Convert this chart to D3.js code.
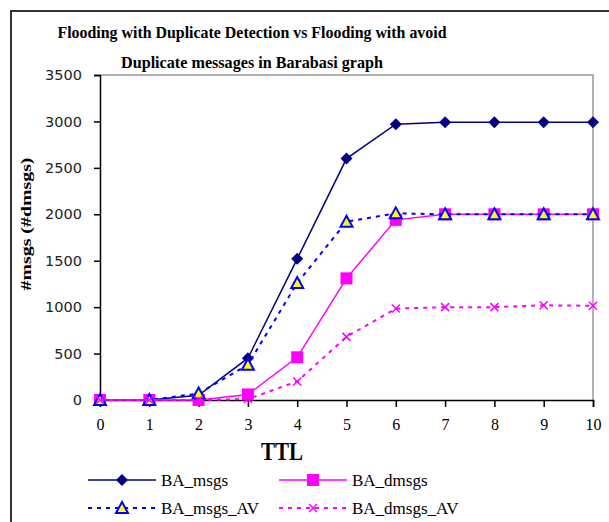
<!DOCTYPE html>
<html><head><meta charset="utf-8">
<script src="https://cdn.jsdelivr.net/npm/d3@7"></script>
<style>body{margin:0;background:#fff}svg{display:block}.serif{font-family:'Liberation Serif','Times New Roman','DejaVu Serif',serif}</style>
</head><body>
<script>
const ttl = [0,1,2,3,4,5,6,7,8,9,10];
const BA_msgs     = [0,0,50,450,1520,2600,2970,2990,2990,2990,2990];
const BA_dmsgs    = [0,0,0,60,460,1310,1940,2000,2000,2000,2000];
const BA_msgs_AV  = [0,0,70,380,1260,1920,2010,2000,2000,2000,2000];
const BA_dmsgs_AV = [0,0,0,10,200,680,985,1000,1000,1020,1015];
const yTicks = [0,500,1000,1500,2000,2500,3000,3500];
const titleLines = ["Flooding with Duplicate Detection vs Flooding with avoid","Duplicate messages in Barabasi graph"];
const seriesNames = ["BA_msgs","BA_dmsgs","BA_msgs_AV","BA_dmsgs_AV"];

const SERIF="'Liberation Serif','Times New Roman','DejaVu Serif',serif";
const W=609,H=522;
const svg=d3.select("body").append("svg").attr("width",W).attr("height",H);
svg.append("rect").attr("width",W).attr("height",H).attr("fill","#fff");
svg.append("rect").attr("x",11).attr("y",11).attr("width",W+20).attr("height",H+20)
  .attr("fill","none").attr("stroke","#333").attr("stroke-width",2);

const L=100,R=593,T=75,B=400;
const x=d3.scaleLinear().domain([0,10]).range([L,R]);
const y=d3.scaleLinear().domain([0,3500]).range([B,T]);

svg.append("path").attr("d",`M${L},${T}H${R}V${B}`).attr("fill","none").attr("stroke","#999").attr("stroke-width",1.5);

const ya=svg.append("g").attr("transform",`translate(${L},0)`)
  .call(d3.axisLeft(y).tickValues(yTicks).tickSize(6).tickPadding(12).tickFormat(d3.format("d")));
ya.attr("font-family","DejaVu Sans");
ya.select(".domain").attr("stroke","#000").attr("stroke-width",1.5);
ya.selectAll("line").attr("stroke","#000").attr("stroke-width",1.5);
ya.selectAll("text").style("font-family","'DejaVu Sans',Verdana,sans-serif").attr("font-size",14.5).attr("fill","#222");

const xa=svg.append("g").attr("transform",`translate(0,${B})`)
  .call(d3.axisBottom(x).tickValues(ttl).tickSize(7).tickPadding(12).tickFormat(d3.format("d")));
xa.attr("font-family",SERIF);
xa.select(".domain").attr("stroke","#000").attr("stroke-width",1.5);
xa.selectAll("line").attr("stroke","#000").attr("stroke-width",1.5);
xa.selectAll("text").style("font-family",SERIF).attr("font-size",16).attr("fill","#000");

titleLines.forEach((t,i)=>{
  svg.append("text").attr("x",252).attr("y",[38,68][i]).attr("text-anchor","middle")
    .style("font-family",SERIF).attr("font-weight","bold").attr("font-size",17)
    .attr("textLength",[389,262][i]).attr("lengthAdjust","spacingAndGlyphs").text(t);
});
svg.append("text").attr("transform","translate(31,224) rotate(-90)").attr("text-anchor","middle")
  .style("font-family",SERIF).attr("font-weight","bold").attr("font-size",15)
  .attr("textLength",133).attr("lengthAdjust","spacingAndGlyphs").text("#msgs (#dmsgs)");
svg.append("text").attr("x",282).attr("y",460).attr("text-anchor","middle")
  .style("font-family",SERIF).attr("font-weight","bold").attr("font-size",25)
  .attr("textLength",42).attr("lengthAdjust","spacingAndGlyphs").text("TTL");

const styles=[
  {vals:BA_msgs,color:"#000080",dash:null,marker:"diamond"},
  {vals:BA_dmsgs,color:"#FF00FF",dash:null,marker:"square"},
  {vals:BA_msgs_AV,color:"#0000FF",dash:"4,5",marker:"triangle"},
  {vals:BA_dmsgs_AV,color:"#FF00FF",dash:"4,5",marker:"x"}
];
function drawMarker(g,type,color,cx,cy){
  if(type==="diamond"){
    g.append("path").attr("d",`M${cx},${cy-6}L${cx+6},${cy}L${cx},${cy+6}L${cx-6},${cy}Z`).attr("fill",color);
  }else if(type==="square"){
    g.append("rect").attr("x",cx-6).attr("y",cy-6).attr("width",12).attr("height",12).attr("fill",color);
  }else if(type==="triangle"){
    g.append("path").attr("d",`M${cx},${cy-6}L${cx+6},${cy+5}L${cx-6},${cy+5}Z`).attr("fill","#FFFF00").attr("stroke",color).attr("stroke-width",2);
  }else{
    g.append("path").attr("d",`M${cx-4},${cy-4}L${cx+4},${cy+4}M${cx+4},${cy-4}L${cx-4},${cy+4}`).attr("stroke",color).attr("stroke-width",1.5);
  }
}
const line=d3.line().x((d,i)=>x(ttl[i])).y(d=>y(d));
styles.forEach(s=>{
  const g=svg.append("g");
  g.append("path").datum(s.vals).attr("d",line).attr("fill","none").attr("stroke",s.color)
    .attr("stroke-width",s.dash?2:1.5).attr("stroke-dasharray",s.dash);
  s.vals.forEach((v,i)=>drawMarker(g,s.marker,s.color,x(ttl[i]),y(v)));
});

const leg=[{x:88,y:480},{x:279,y:480},{x:88,y:508},{x:279,y:508}];
styles.forEach((s,i)=>{
  const p=leg[i], g=svg.append("g");
  g.append("line").attr("x1",p.x).attr("x2",p.x+68).attr("y1",p.y).attr("y2",p.y)
    .attr("stroke",s.color).attr("stroke-width",s.dash?2:1.5).attr("stroke-dasharray",s.dash);
  drawMarker(g,s.marker,s.color,p.x+34,p.y);
  g.append("text").attr("x",p.x+73).attr("y",p.y+6).style("font-family",SERIF)
    .attr("font-size",17).text(seriesNames[i]);
});
</script>
</body></html>
